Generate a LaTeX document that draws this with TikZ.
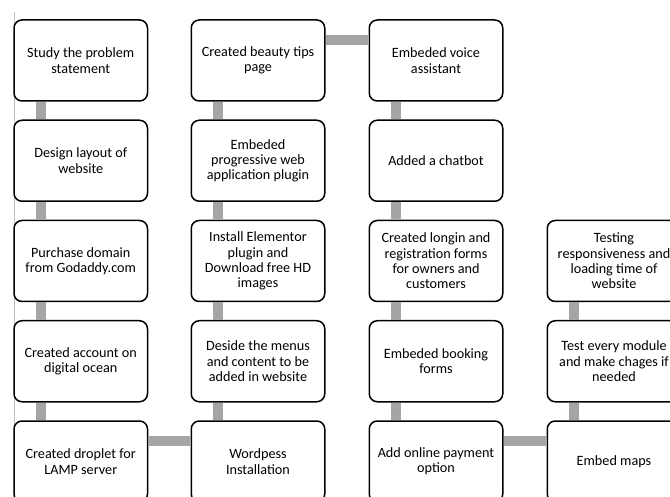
\documentclass[tikz,border=0pt]{standalone}
\usepackage{fontspec}
\setmainfont{Carlito}
\begin{document}
\begin{tikzpicture}[x=1pt,y=-1pt,
  box/.style={draw=black, line width=1.5pt, rounded corners=8pt, fill=white,
    minimum width=133.5pt, minimum height=81pt, align=center, inner sep=2pt,
    font=\fontsize{14.2}{15.4}\selectfont},
  conn/.style={draw=linkgray, line width=10pt, line cap=butt}]
\definecolor{linkgray}{HTML}{A5A5A5}
\useasboundingbox (0,0) rectangle (670,497);
\clip (0,0) rectangle (670,497);
\fill[white] (0,0) rectangle (670,497);
\draw[black!25, line width=0.8pt] (14.5,12) -- (14.5,497);
% column 1
\node[box] (a1) at (80.75,60.5) {Study the problem\\statement};
\node[box] (a2) at (80.75,160.75) {Design layout of\\website};
\node[box] (a3) at (80.75,261) {Purchase domain\\from Godaddy.com};
\node[box] (a4) at (80.75,361.25) {Created account on\\digital ocean};
\node[box] (a5) at (80.75,461.5) {Created droplet for\\LAMP server};
% column 2
\node[box] (b1) at (258,60.5) {Created beauty tips\\page};
\node[box] (b2) at (258,160.75) {Embeded\\progressive web\\application plugin};
\node[box] (b3) at (258,261) {Install Elementor\\plugin and\\Download free HD\\images};
\node[box] (b4) at (258,361.25) {Deside the menus\\and content to be\\added in website};
\node[box] (b5) at (258,461.5) {Wordpess\\Installation};
% column 3
\node[box] (c1) at (436,60.5) {Embeded voice\\assistant};
\node[box] (c2) at (436,160.75) {Added a chatbot};
\node[box] (c3) at (436,261) {Created longin and\\registration forms\\for owners and\\customers};
\node[box] (c4) at (436,361.25) {Embeded booking\\forms};
\node[box] (c5) at (436,461.5) {Add online payment\\option};
% column 4
\node[box] (d3) at (614,261) {Testing\\responsiveness and\\loading time of\\website};
\node[box] (d4) at (614,361.25) {Test every module\\and make chages if\\needed};
\node[box] (d5) at (614,461.5) {Embed maps};
% vertical connectors
\foreach \c in {a,b,c}{
  \foreach \i/\j in {1/2,2/3,3/4,4/5}{
    \draw[conn] ([xshift=27.5pt]\c\i.south west) -- ([xshift=27.5pt]\c\j.north west);
  }
}
\draw[conn] ([xshift=27.5pt]d3.south west) -- ([xshift=27.5pt]d4.north west);
\draw[conn] ([xshift=27.5pt]d4.south west) -- ([xshift=27.5pt]d5.north west);
% horizontal connectors
\draw[conn] ([yshift=-20.5pt]a5.north east) -- ([yshift=-20.5pt]b5.north west);
\draw[conn] ([yshift=-20.5pt]b1.north east) -- ([yshift=-20.5pt]c1.north west);
\draw[conn] ([yshift=-20.5pt]c5.north east) -- ([yshift=-20.5pt]d5.north west);
\end{tikzpicture}
\end{document}
